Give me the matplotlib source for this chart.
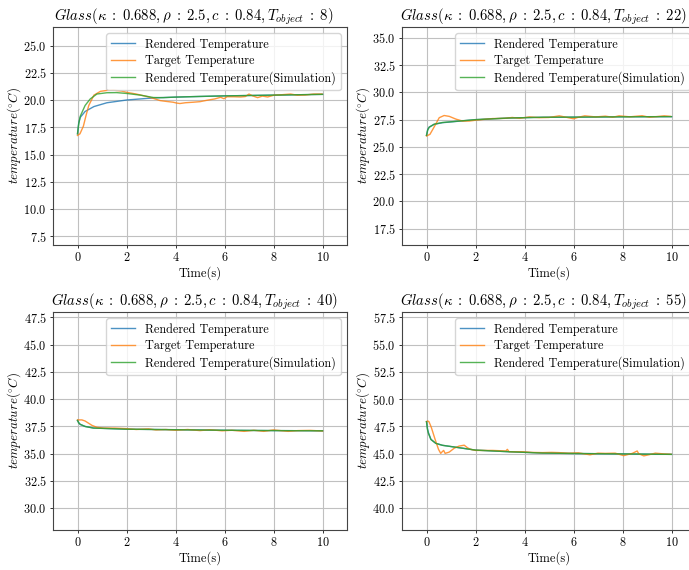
import numpy as np
import matplotlib
matplotlib.use("Agg")
import matplotlib.pyplot as plt

plt.rcParams['font.family'] = 'serif'
plt.rcParams['font.serif'] = ['cmr10']
plt.rcParams['mathtext.fontset'] = 'cm'
plt.rcParams['axes.formatter.use_mathtext'] = True

# object temperatures of the four runs
t_objects = [8, 22, 40, 55]
y_limits = [(6.7, 26.7), (16.0, 36.0), (28.0, 48.0), (38.0, 58.0)]

# --- T_object = 8 ---
rend_t_8 = [0, 0.05, 0.11, 0.31, 0.67, 1.2, 2.0, 2.84, 3.4, 4.5, 6.0, 8.0, 10.0]
rend_y_8 = [16.9, 17.9, 18.4, 18.95, 19.4, 19.75, 20.0, 20.15, 20.22, 20.3, 20.38, 20.45, 20.52]
targ_t_8 = [0, 0.1, 0.24, 0.35, 0.46, 0.67, 0.94, 1.2, 1.48, 1.8, 2.02, 2.4, 2.84, 3.1, 3.37, 3.6, 3.9,
            4.05, 4.18, 4.4, 4.73, 5.0, 5.29, 5.6, 5.84, 5.98, 6.1, 6.39, 6.66, 6.85, 7.0, 7.15, 7.35,
            7.55, 7.76, 8.03, 8.3, 8.7, 8.97, 9.3, 9.64, 9.98]
targ_y_8 = [16.75, 16.9, 17.6, 18.6, 19.5, 20.45, 20.8, 20.88, 20.9, 20.82, 20.7, 20.55, 20.32, 20.15,
            19.95, 19.88, 19.8, 19.72, 19.68, 19.75, 19.8, 19.85, 19.98, 20.1, 20.25, 20.12, 20.3, 20.3,
            20.28, 20.32, 20.55, 20.38, 20.22, 20.36, 20.28, 20.45, 20.48, 20.55, 20.44, 20.46, 20.55, 20.55]
sim_t_8 = [0, 0.05, 0.11, 0.31, 0.52, 0.79, 1.2, 1.6, 2.02, 2.56, 3.1, 3.5, 4.0, 5.0, 6.0, 8.0, 10.0]
sim_y_8 = [16.9, 17.8, 18.5, 19.5, 20.1, 20.55, 20.67, 20.68, 20.6, 20.45, 20.23, 20.22, 20.27, 20.33,
           20.38, 20.45, 20.52]

# --- T_object = 22 ---
rend_t_22 = [0, 0.05, 0.11, 0.31, 0.65, 1.33, 2.0, 3.37, 4.73, 6.0, 8.0, 10.0]
rend_y_22 = [26.06, 26.6, 26.82, 27.07, 27.22, 27.36, 27.5, 27.65, 27.72, 27.73, 27.76, 27.77]
targ_t_22 = [0, 0.14, 0.31, 0.52, 0.72, 0.93, 1.2, 1.47, 1.74, 2.0, 2.7, 3.2, 3.5, 3.8, 4.2, 4.6,
             5.0, 5.42, 5.7, 6.0, 6.2, 6.46, 6.9, 7.3, 7.6, 7.86, 8.3, 8.8, 9.1, 9.4, 9.7, 9.95]
targ_y_22 = [26.0, 26.15, 26.82, 27.68, 27.88, 27.8, 27.55, 27.37, 27.37, 27.45, 27.6, 27.62, 27.7,
             27.62, 27.75, 27.68, 27.7, 27.85, 27.72, 27.58, 27.72, 27.85, 27.75, 27.82, 27.72, 27.85,
             27.76, 27.86, 27.72, 27.78, 27.85, 27.8]
sim_t_22 = [0, 0.05, 0.11, 0.31, 0.65, 1.33, 2.0, 3.37, 4.73, 6.0, 8.0, 10.0]
sim_y_22 = [26.06, 26.55, 26.8, 27.08, 27.24, 27.37, 27.5, 27.65, 27.72, 27.73, 27.76, 27.78]

# --- T_object = 40 ---
rend_t_40 = [0, 0.05, 0.11, 0.31, 0.65, 1.33, 2.0, 4.0, 6.0, 8.0, 10.0]
rend_y_40 = [38.05, 37.85, 37.68, 37.5, 37.36, 37.3, 37.25, 37.2, 37.15, 37.12, 37.1]
targ_t_40 = [0, 0.18, 0.31, 0.45, 0.59, 0.79, 1.06, 1.5, 2.0, 2.4, 2.9, 3.2, 3.6, 4.0, 4.5, 5.0, 5.4,
             5.9, 6.3, 6.8, 7.2, 7.6, 8.0, 8.6, 9.0, 9.5, 10.0]
targ_y_40 = [38.1, 38.1, 38.0, 37.8, 37.6, 37.42, 37.35, 37.35, 37.3, 37.22, 37.28, 37.18, 37.22, 37.15,
             37.22, 37.12, 37.2, 37.1, 37.15, 37.05, 37.15, 37.05, 37.18, 37.05, 37.12, 37.14, 37.08]
sim_t_40 = [0, 0.05, 0.11, 0.31, 0.65, 1.33, 2.0, 4.0, 6.0, 8.0, 10.0]
sim_y_40 = [38.05, 37.82, 37.7, 37.5, 37.35, 37.3, 37.25, 37.2, 37.15, 37.12, 37.1]

# --- T_object = 55 ---
rend_t_55 = [0, 0.04, 0.08, 0.18, 0.38, 0.65, 1.33, 2.0, 3.37, 4.73, 6.0, 8.0, 10.0]
rend_y_55 = [47.94, 47.3, 46.93, 46.32, 45.95, 45.77, 45.55, 45.33, 45.18, 45.06, 45.02, 44.98, 44.94]
targ_t_55 = [0, 0.05, 0.1, 0.2, 0.35, 0.49, 0.58, 0.65, 0.7, 0.76, 0.93, 1.13, 1.33, 1.54, 1.67, 1.8,
             2.0, 2.7, 3.24, 3.3, 3.37, 3.92, 4.3, 4.73, 5.1, 5.4, 5.8, 6.2, 6.67, 7.0, 7.3, 7.7, 8.05,
             8.4, 8.6, 8.66, 8.87, 9.07, 9.34, 9.7, 9.98]
targ_y_55 = [47.94, 48.0, 47.94, 47.39, 46.32, 45.4, 45.03, 45.2, 45.3, 45.03, 45.15, 45.5, 45.7,
             45.78, 45.55, 45.4, 45.3, 45.3, 45.25, 45.4, 45.18, 45.18, 45.12, 45.1, 45.12, 45.1,
             45.05, 45.08, 44.9, 45.05, 45.03, 45.05, 44.82, 45.03, 45.25, 45.0, 44.8, 44.9, 45.05,
             44.98, 44.95]
sim_t_55 = [0, 0.04, 0.08, 0.18, 0.38, 0.65, 1.33, 2.0, 3.37, 4.73, 6.0, 8.0, 10.0]
sim_y_55 = [47.94, 47.2, 46.85, 46.3, 45.95, 45.77, 45.55, 45.33, 45.18, 45.06, 45.02, 44.98, 44.94]

runs = [
    (rend_t_8, rend_y_8, targ_t_8, targ_y_8, sim_t_8, sim_y_8),
    (rend_t_22, rend_y_22, targ_t_22, targ_y_22, sim_t_22, sim_y_22),
    (rend_t_40, rend_y_40, targ_t_40, targ_y_40, sim_t_40, sim_y_40),
    (rend_t_55, rend_y_55, targ_t_55, targ_y_55, sim_t_55, sim_y_55),
]

W, H = 689, 570
fig = plt.figure(figsize=(W / 100, H / 100), dpi=100)
# axes boxes in pixels (left, top); right column runs past the figure edge
boxes = [(53, 27), (402, 27), (53, 312), (402, 312)]
aw, ah = 294, 218

for i, (box, run) in enumerate(zip(boxes, runs)):
    left, top = box
    ax = fig.add_axes([left / W, (H - top - ah) / H, aw / W, ah / H])
    rt, ry, tt, ty, st, sy = run
    ax.plot(rt, ry, color='tab:blue', lw=1.0, alpha=0.8, label='Rendered Temperature')
    ax.plot(tt, ty, color='tab:orange', lw=1.0, alpha=0.8, label='Target Temperature')
    ax.plot(st, sy, color='tab:green', lw=1.0, alpha=0.8, label='Rendered Temperature(Simulation)')
    ax.set_xlim(-1, 11)
    ax.set_ylim(*y_limits[i])
    ax.set_xticks([0, 2, 4, 6, 8, 10])
    ax.grid(True, color='#c0c0c0')
    ax.tick_params(labelsize=8.8, length=2.3, pad=2.3, width=0.7, colors='#333333', labelcolor='black')
    for s in ax.spines.values():
        s.set_linewidth(0.8)
        s.set_color('#444444')
    ax.set_xlabel('Time(s)', fontsize=9, labelpad=1)
    ax.set_ylabel(r'$temperature(^{\circ}C)$', fontsize=9.3, labelpad=0)
    ax.set_title(r'$Glass(\kappa\;:\;0.688, \rho\;:\;2.5, c\;:\;0.84, T_{object}\;:\;%d)$' % t_objects[i],
                 fontsize=10.6, pad=5, x=0.48)
    ax.legend(loc='upper right', fontsize=8.8, labelspacing=0.35)

fig.savefig('out.png', dpi=100)
